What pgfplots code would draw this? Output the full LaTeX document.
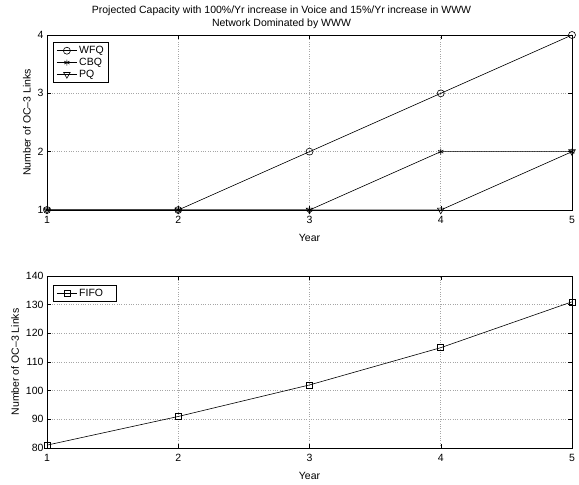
\documentclass[border=0pt]{standalone}
\usepackage{fontspec}
\setmainfont{Liberation Sans}
\usepackage{pgfplots}
\pgfplotsset{compat=1.18}
\begin{document}
\begin{tikzpicture}[x=1pt,y=1pt]
\useasboundingbox (0,0) rectangle (579,-485);
\pgfplotsset{
  mystyle/.style={
    width=525pt, scale only axis,
    xmin=1, xmax=5, xtick={1,2,3,4,5},
    axis line style={black, line width=0.8pt},
    tick style={black, line width=0.5pt},
    tick align=inside,
    major tick length=4pt,
    xtick pos=both, ytick pos=both,
    grid=major,
    major grid style={dotted, gray!70, line width=0.6pt},
    /pgf/number format/assume math mode=true,
    tick label style={font=\fontsize{10.5}{12.5}\selectfont},
    xticklabel style={yshift=-3pt},
    label style={font=\fontsize{10.5}{12.5}\selectfont},
    xlabel={Year},
    ylabel={Number of OC–3 Links},
    xlabel style={yshift=-3pt},
    legend style={at={(0.012,0.96)}, anchor=north west, draw=black, line width=0.6pt,
      font=\fontsize{10.5}{12.5}\selectfont, row sep=-1pt, inner xsep=3pt, inner ysep=2pt, cells={anchor=west},
      legend image code/.code={\draw[mark repeat=2,mark phase=2] plot coordinates {(0pt,0pt) (10pt,0pt) (20pt,0pt)};}},
    legend cell align=left,
    every axis plot/.append style={black, line width=0.6pt},
  }
}
\begin{axis}[mystyle, at={(47pt,-210pt)}, anchor=south west, height=175pt,
  ymin=1, ymax=4, ytick={1,2,3,4},
  title={Projected Capacity with 100\%/Yr increase in Voice and 15\%/Yr increase in WWW\\Network Dominated by WWW},
  title style={font=\fontsize{10.5}{12.5}\selectfont, align=center, yshift=-3pt, xshift=-28pt},
  clip=false]
\addplot[mark=o, mark size=3.5pt, mark options={solid, fill=none}] coordinates {(1,1) (2,1) (3,2) (4,3) (5,4)};
\addlegendentry{WFQ}
\addplot[mark=asterisk, mark size=3pt, mark options={solid}] coordinates {(1,1) (2,1) (3,1) (4,2) (5,2)};
\addlegendentry{CBQ}
\addplot[mark=triangle, mark size=3.8pt, mark options={solid, fill=none, rotate=180}] coordinates {(1,1) (2,1) (3,1) (4,1) (5,2)};
\addlegendentry{PQ}
\end{axis}
\begin{axis}[mystyle, at={(47pt,-448pt)}, anchor=south west, height=172pt,
  ymin=80, ymax=140, ytick={80,90,100,110,120,130,140}, clip=false,
  legend style={at={(0.012,0.95)}}]
\addplot[mark=square, mark size=3pt, mark options={solid, fill=none}] coordinates {(1,81) (2,91) (3,102) (4,115) (5,131)};
\addlegendentry{FIFO\phantom{Q}}
\end{axis}
\end{tikzpicture}
\end{document}
